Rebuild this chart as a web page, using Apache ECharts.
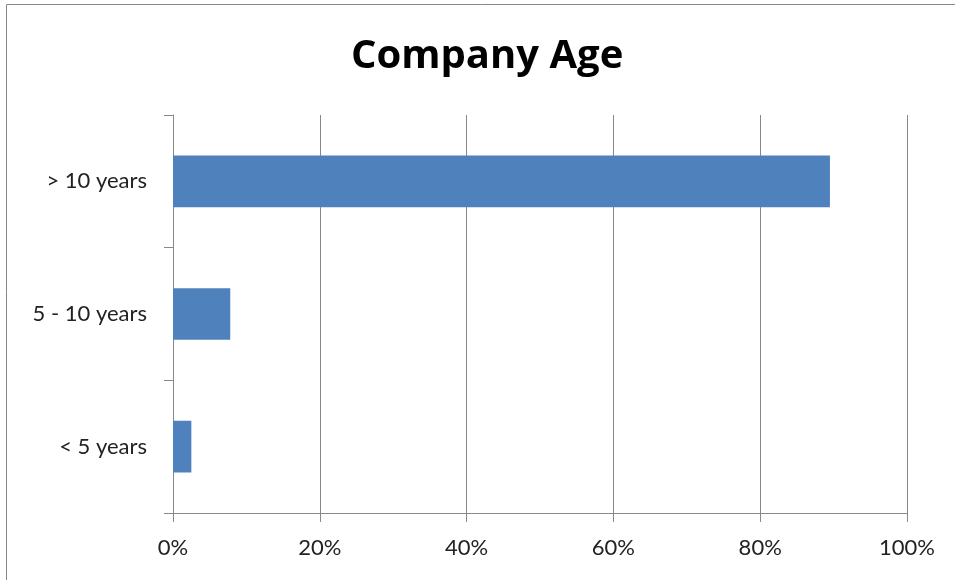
<!DOCTYPE html>
<html><head><meta charset="utf-8">
<script src="https://cdn.jsdelivr.net/npm/echarts@6/dist/echarts.min.js"></script>
<style>html,body{margin:0;padding:0;background:#fff}#c{width:955px;height:580px}</style>
</head><body><div id="c"></div>
<script>
var categories = ['< 5 years', '5 - 10 years', '> 10 years'];
var values = [2.5, 7.8, 89.5];
var xTicks = [0, 20, 40, 60, 80, 100];

var chart = echarts.init(document.getElementById('c'));
chart.setOption({
  backgroundColor: '#fff',
  animation: false,
  graphic: [{type:'rect', shape:{x:6.5,y:4.5,width:960,height:600}, style:{fill:'none', stroke:'#878787', lineWidth:1}, silent:true}],
  title: {text:'Company Age', left:346, top:32, textStyle:{fontFamily:'Open Sans', fontWeight:'bold', fontSize:40, color:'#000'}},
  grid: {left:173, right:48, top:115, bottom:67},
  xAxis: {type:'value', min:0, max:100, interval:20,
    axisLine:{show:true, lineStyle:{color:'#888', width:1}},
    axisTick:{show:true, length:9, lineStyle:{color:'#888'}},
    splitLine:{show:true, lineStyle:{color:'#888', width:1}},
    axisLabel:{formatter:function(v){return xTicks.indexOf(v)>=0 ? v+'%' : '';}, color:'#222', fontFamily:'Lato', fontSize:22, margin:24}},
  yAxis: {type:'category', data:categories,
    axisLine:{show:true, lineStyle:{color:'#888', width:1}},
    axisTick:{show:true, length:9, lineStyle:{color:'#888'}},
    axisLabel:{color:'#222', fontFamily:'Lato', fontSize:22, margin:26}},
  series: [{type:'bar', data:values, barWidth:'39%', itemStyle:{color:'#4F81BD'}}]
});
</script></body></html>
